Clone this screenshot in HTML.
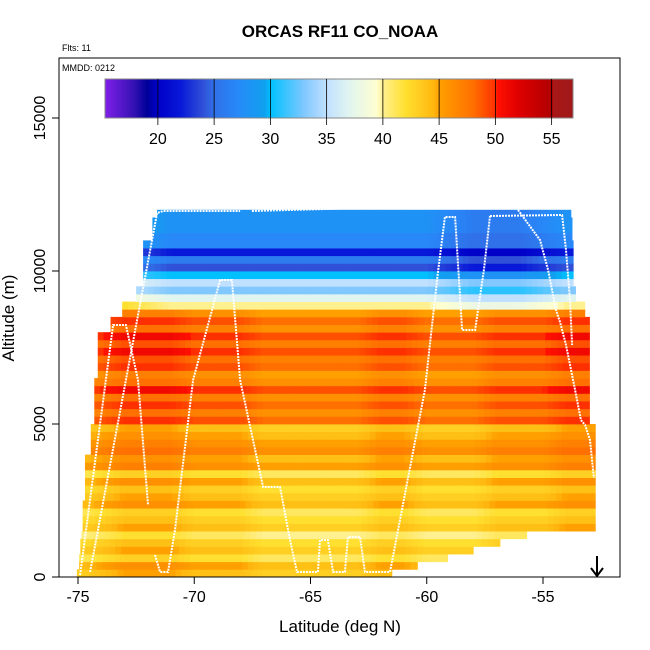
<!DOCTYPE html>
<html><head><meta charset="utf-8"><style>
body{margin:0;background:#fff;}
svg{display:block;font-family:"Liberation Sans",sans-serif;}
</style></head><body>
<svg id="chart" width="650" height="650" viewBox="0 0 650 650" xmlns="http://www.w3.org/2000/svg">
<rect width="650" height="650" fill="#fff"/>
<text x="340" y="37" text-anchor="middle" font-size="17" font-weight="bold">ORCAS RF11 CO_NOAA</text>
<text x="62" y="51" font-size="9">Flts: 11</text>
<g id="heat"></g>
<g id="track"></g>
<rect x="59" y="58" width="561" height="519" fill="none" stroke="#000" stroke-width="1"/>
<text x="62" y="71" font-size="9">MMDD: 0212</text>
<g id="cbar"></g>
<g id="axes"></g>
<text x="340" y="632" text-anchor="middle" font-size="17">Latitude (deg N)</text>
<text transform="translate(14,318) rotate(-90)" text-anchor="middle" font-size="17">Altitude (m)</text>
<g stroke="#000" stroke-width="2" fill="none">
<line x1="597" y1="556" x2="597" y2="576"/><polyline points="591,568 597,576 603,568"/>
</g>
</svg>
<script>
// ---- data ----
const rowVals = [44,45,42,44,43,41,44,43,42,45,44,43,45,42,46,45,47,46,45,44,49,47,49,47,50,47,46,49,48,50,48,50,47,49,46,40,37,33,35,30,24,26,22,27,27,28,28,28];
const edgeAlts = [0,250,500,750,1000,1250,1500,2500,4000,5000,6500,8000,8500,9000,9500,10000,11000,11750];
const leftLats = [-75.05,-74.95,-74.95,-74.9,-74.9,-74.85,-74.8,-74.7,-74.45,-74.3,-74.15,-73.6,-73.1,-72.5,-72.2,-72.2,-71.8,-71.6];
const rightLats = [-61.5,-60.4,-59.1,-58.0,-56.85,-55.7,-52.75,-52.75,-52.75,-53.0,-53.0,-53.0,-53.2,-53.6,-53.7,-53.7,-53.75,-53.8];
const anomLats = [-75,-74,-73,-72,-71,-70,-69,-68,-67,-66,-65,-64,-63,-62,-61,-60,-59,-58,-57,-56,-55,-54,-53];
const anomLow = [-1,0,1,1,1,0,0,0,-1,-1,-1,-1,-1,0,0,-1,-1,-1,0,0,0,1,1];
const anomHigh = [3,3,2,1,0,0,0,0,0,0,0,0,0,0,0,0,-1,-2,-2,-2,-1,0,0];
const trackA_lat = [-74.91,-73.49,-72.94,-72.42,-71.99];
const trackA_alt = [65,8235,8235,6438,2353];
const trackB_lat = [-74.48,-72.94,-71.6,-71.34,-68.03];
const trackB_alt = [163,6438,11895,11961,11961];
const trackC_lat = [-67.52,-61.15,-60.42];
const trackC_alt = [11961,12092,12092];
const trackD_lat = [-59.86,-56.2,-55.13,-54.78,-54.44,-54.27,-54.01,-53.62,-53.37,-53.19,-52.98,-52.81];
const trackD_alt = [12124,12124,11013,10033,8725,8333,7582,6111,5131,4967,4477,3235];
const trackE_lat = [-57.28,-54.18,-54.01,-53.84,-53.75];
const trackE_alt = [11797,11830,10686,9052,7582];
const trackF_lat = [-71.69,-71.47,-71.13,-70.83,-70.05,-68.89,-68.38,-68.03,-67.04,-66.31,-65.88,-65.58,-64.68,-64.59,-64.25,-64.03,-63.52,-63.39,-62.87,-62.66,-61.8,-61.58,-60.08,-59.56,-59.22,-58.78,-58.48,-58.27,-57.92,-57.54,-57.28];
const trackF_alt = [719,163,163,1536,6438,9706,9706,6438,2941,2941,1209,163,163,1209,1209,163,163,1307,1307,163,163,163,6111,9706,11765,11765,8072,8072,8072,10033,11797];
const xTicks = [-75,-70,-65,-60,-55];
const yTicks = [0,5000,10000,15000];
const cbTicks = [20,25,30,35,40,45,50,55];
const cStops = [15.3,18,19,20,22,24,25,27,29.5,30,33,35,37,39.5,40,42,44.5,45,48,50,50.2,52,55,55.1,57];
const cCols = ["#8020e8","#3010b0","#000098","#0000c8","#0818d8","#3050d8","#3070e8","#2888f8","#10a0f0","#00c0ff","#80c8ff","#c0e0ff","#e0f4f0","#ffffd0","#fff090","#ffe030","#ffb810","#ffa000","#ff7000","#ff3000","#ff1000","#e00000","#b00000","#a81818","#a01818"];
// ---- scales ----
const NS="http://www.w3.org/2000/svg";
const xS = lat => 78 + (lat + 75) * 23.25;
const yS = alt => 577 - alt * 0.0306;
const cS = v => 105 + (v - 15.3) * (468 / (56.9 - 15.3));
function hex(h){return [1,3,5].map(i=>parseInt(h.substr(i,2),16));}
function color(v){
  if(v<=cStops[0])return cCols[0];
  for(let i=1;i<cStops.length;i++){ if(v<=cStops[i]){const t=(v-cStops[i-1])/(cStops[i]-cStops[i-1]);const a=hex(cCols[i-1]),b=hex(cCols[i]);return "rgb("+a.map((x,k)=>Math.round(x+(b[k]-x)*t)).join(",")+")";}}
  return cCols[cCols.length-1];
}
function step(alts,vals,a){let r=vals[0];for(let i=0;i<alts.length;i++)if(a>=alts[i])r=vals[i];return r;}
function anom(arr,lat){
  if(lat<=anomLats[0])return arr[0];
  for(let i=1;i<anomLats.length;i++)if(lat<=anomLats[i]){const t=(lat-anomLats[i-1]);return arr[i-1]+(arr[i]-arr[i-1])*t;}
  return arr[arr.length-1];
}
function mk(tag,attrs,parent){const e=document.createElementNS(NS,tag);for(const k in attrs)e.setAttribute(k,attrs[k]);parent.appendChild(e);return e;}
// ---- heatmap ----
const heat=document.getElementById('heat');
const dLat=0.25, dAlt=250;
for(let r=0;r<rowVals.length;r++){
  const a0=r*dAlt;
  const L=step(edgeAlts,leftLats,a0), R=step(edgeAlts,rightLats,a0);
  for(let lat=L;lat<R-0.001;lat+=dLat){
    const l2=Math.min(lat+dLat,R);
    const v=rowVals[r]+anom(r<35?anomLow:anomHigh,lat+dLat/2);
    const c=mk('rect',{x:xS(lat).toFixed(2),y:yS(a0+dAlt).toFixed(2),width:(xS(l2)-xS(lat)+0.4).toFixed(2),height:(dAlt*0.0306+0.4).toFixed(2),fill:color(v)},heat);
    
    
  }
}
// ---- track ----
const trk=document.getElementById('track');
[[trackA_lat,trackA_alt],[trackB_lat,trackB_alt],[trackC_lat,trackC_alt],[trackD_lat,trackD_alt],[trackE_lat,trackE_alt],[trackF_lat,trackF_alt]].forEach(([la,al])=>{
  const p=mk('polyline',{points:la.map((x,i)=>xS(x).toFixed(1)+","+yS(al[i]).toFixed(1)).join(" "),fill:"none",stroke:"#fff","stroke-width":"2","stroke-dasharray":"2 1"},trk);
  
  
});
// ---- colorbar ----
const cb=document.getElementById('cbar');
for(let v=15.3;v<56.9;v+=0.2){
  const r=mk('rect',{x:cS(v).toFixed(2),y:79,width:(cS(v+0.2)-cS(v)+0.3).toFixed(2),height:39,fill:color(v+0.1)},cb);
  
  
}
mk('rect',{x:105,y:79,width:468,height:39,fill:"none",stroke:"#888","stroke-width":"1"},cb);
cbTicks.forEach(t=>{
  const l=mk('line',{x1:cS(t),x2:cS(t),y1:79,y2:125,stroke:"#000","stroke-width":"0.8"},cb);
  
  
  const tx=mk('text',{x:cS(t),y:144,"text-anchor":"middle","font-size":"16"},cb);
  tx.textContent=t;
  
  
});
// ---- axes ----
const ax=document.getElementById('axes');
xTicks.forEach(t=>{
  const l=mk('line',{x1:xS(t),x2:xS(t),y1:577,y2:584,stroke:"#000"},ax);
  
  
  const tx=mk('text',{x:xS(t),y:602,"text-anchor":"middle","font-size":"16"},ax);
  tx.textContent=t;
  
  
});
yTicks.forEach(t=>{
  const l=mk('line',{x1:52,x2:59,y1:yS(t),y2:yS(t),stroke:"#000"},ax);
  
  
  const tx=mk('text',{x:0,y:0,"text-anchor":"middle","font-size":"16",transform:"translate(45,"+yS(t)+") rotate(-90)"},ax);
  tx.textContent=t;
  
  
});
</script>
</body></html>
